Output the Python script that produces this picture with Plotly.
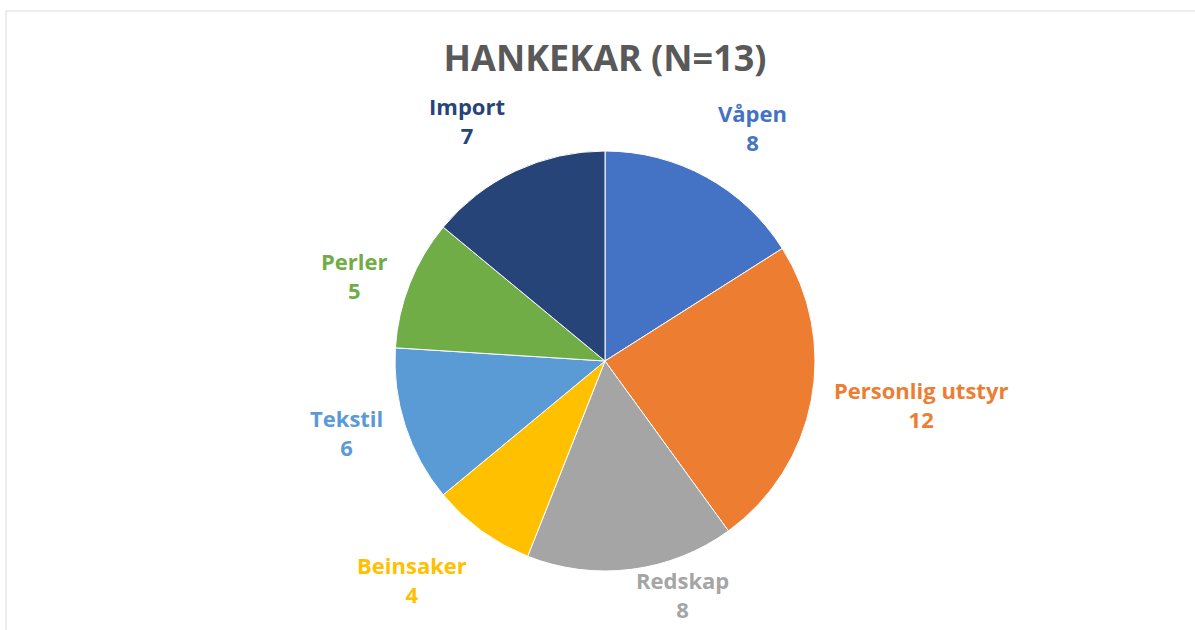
import math
import plotly.graph_objects as go

labels = ["Våpen", "Personlig utstyr", "Redskap", "Beinsaker", "Tekstil", "Perler", "Import"]
values = [8, 12, 8, 4, 6, 5, 7]
colors = ["#4472C4", "#ED7D31", "#A5A5A5", "#FFC000", "#5B9BD5", "#70AD47", "#264478"]
title = "HANKEKAR (N=13)"

W, H = 1195, 630
cx, cy, r = 605, 361, 210
gap = 21
label_size = 22
line_h = 1.3 * label_size

fig = go.Figure(go.Pie(
    labels=labels,
    values=values,
    sort=False,
    direction="clockwise",
    rotation=0,
    marker=dict(colors=colors, line=dict(color="white", width=1)),
    textinfo="none",
    showlegend=False,
    hoverinfo="label+value",
    domain=dict(x=[(cx - r) / W, (cx + r) / W], y=[(H - cy - r) / H, (H - cy + r) / H]),
))

# Data labels placed just outside each slice's mid-angle (Excel "outside end" style)
total = sum(values)
cum = 0
for lab, val, col in zip(labels, values, colors):
    theta = 2 * math.pi * (cum + val / 2) / total
    cum += val
    s, c = math.sin(theta), math.cos(theta)
    px = cx + (r + gap) * s
    py = cy - (r + gap) * c
    xa = "left" if s > 0.1 else ("right" if s < -0.1 else "center")
    if c > 0.4:
        ya = "bottom"
    elif c < -0.4:
        ya = "top"
        py = min(py, H - 2 * line_h - 10)
    else:
        ya = "middle"
    fig.add_annotation(
        x=px / W, y=1 - py / H, xref="paper", yref="paper",
        xanchor=xa, yanchor=ya, align="center", showarrow=False,
        text=f"<b>{lab}</b><br><b>{val}</b>",
        font=dict(family="Open Sans", size=label_size, color=col),
    )

fig.add_shape(type="rect", xref="paper", yref="paper",
              x0=6 / W, x1=1.01, y0=-0.01, y1=(H - 11) / H,
              line=dict(color="#D9D9D9", width=1), fillcolor="rgba(0,0,0,0)")

fig.update_layout(
    width=W, height=H,
    margin=dict(l=0, r=0, t=0, b=0),
    paper_bgcolor="white",
    title=dict(text="<b>" + title + "</b>", x=cx / W, xanchor="center", y=(H - 58) / H, yanchor="middle",
               font=dict(family="Open Sans", size=36, color="#595959")),
)

fig.write_html("out.html", config={"displayModeBar": False},
               post_script="document.body.style.margin='0';")
